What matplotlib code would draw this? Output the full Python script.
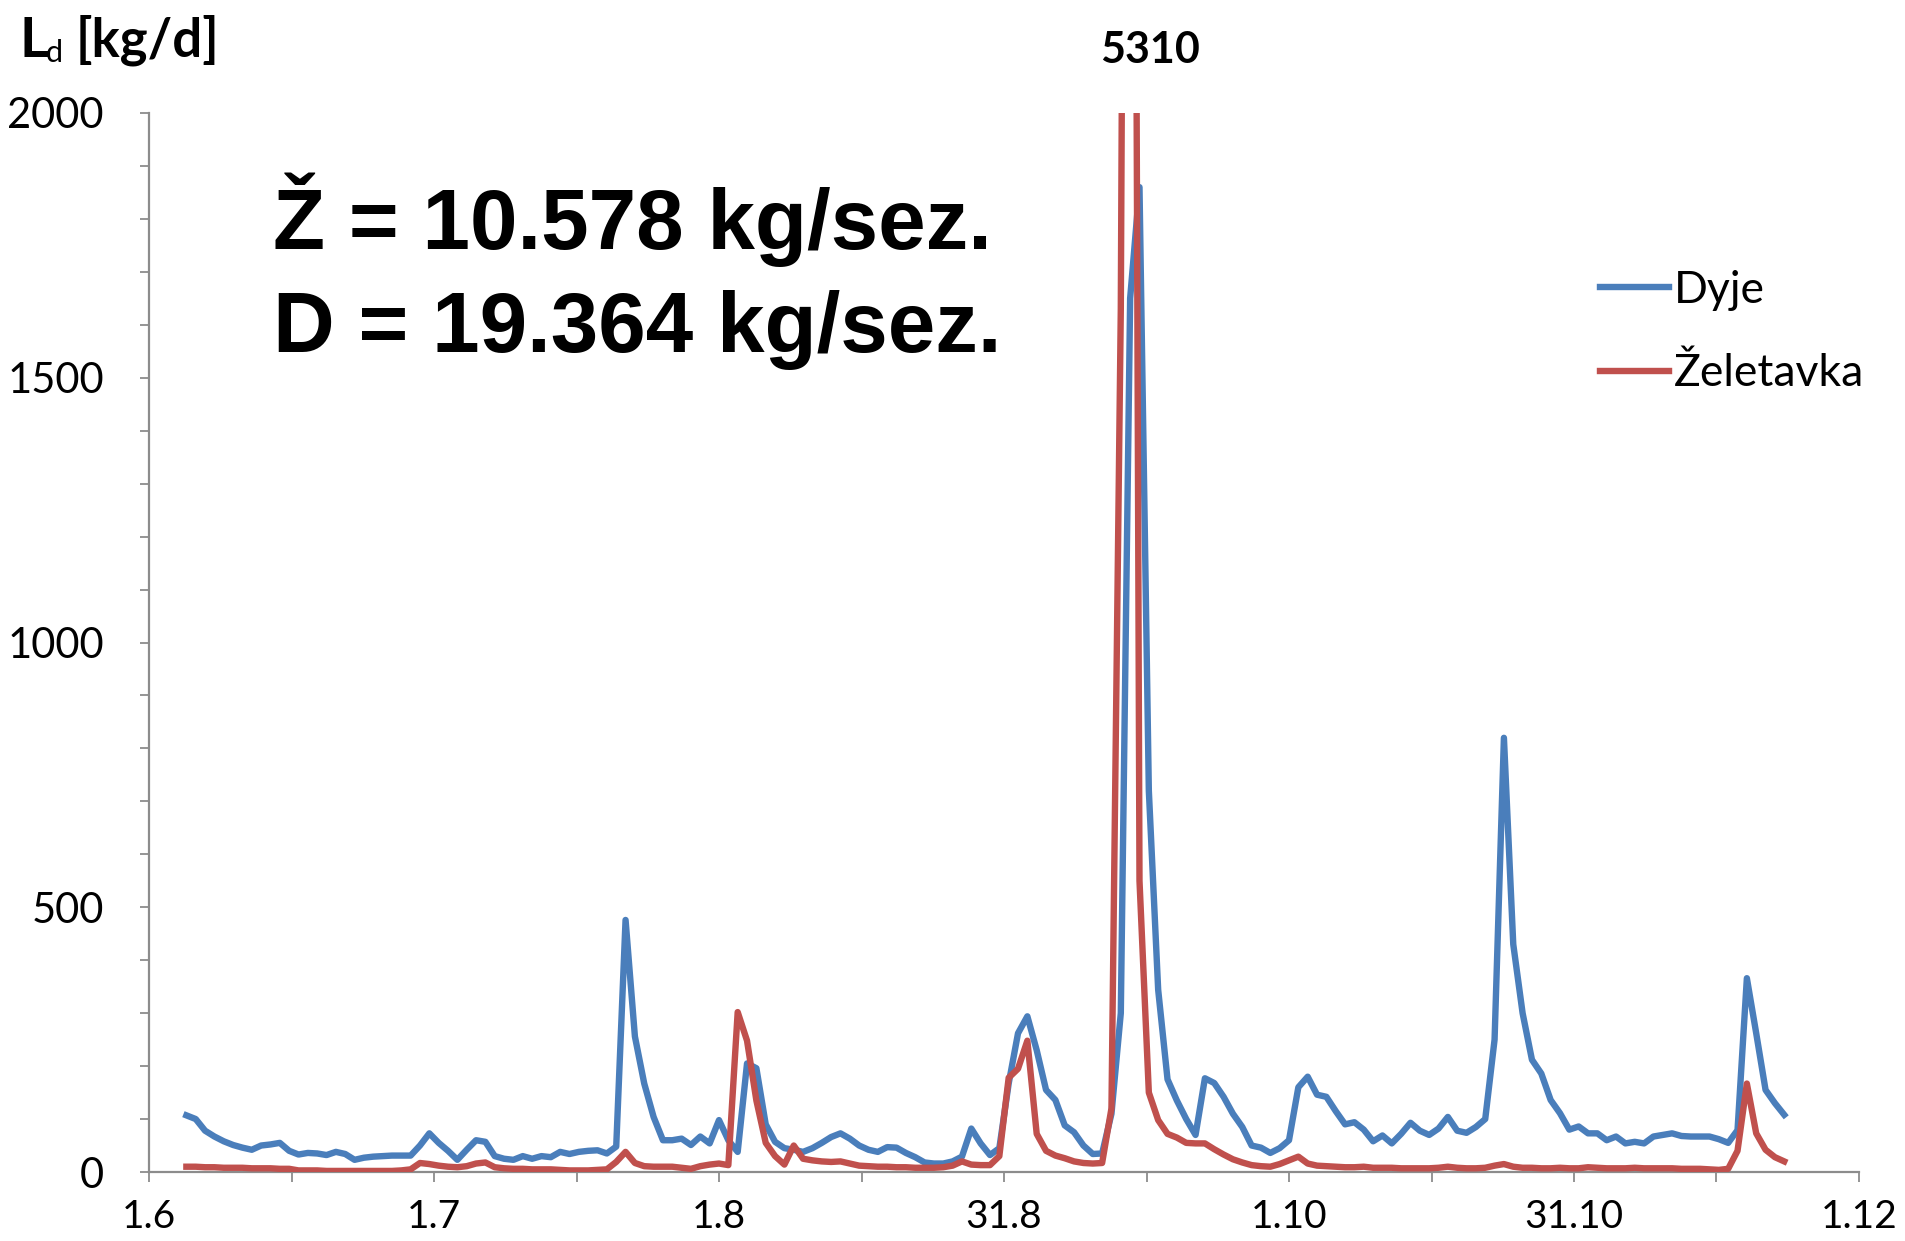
import matplotlib
matplotlib.use("Agg")
import matplotlib.pyplot as plt
import numpy as np
from matplotlib.ticker import FixedLocator, MultipleLocator, NullFormatter

# ---------------- data ----------------
start_day = 4          # first measurement: days after 1.6
dyje = [
    107, 100, 78, 67, 58, 51, 46, 42, 50, 52,
    55, 40, 33, 36, 35, 32, 38, 34, 23, 27,
    29, 30, 31, 31, 31, 50, 73, 55, 40, 23,
    42, 60, 57, 30, 25, 23, 30, 25, 30, 28,
    38, 34, 38, 40, 41, 35, 48, 476, 256, 167,
    104, 60, 60, 63, 51, 67, 54, 98, 60, 38,
    205, 196, 90, 57, 45, 42, 38, 45, 55, 66,
    73, 63, 50, 42, 38, 47, 46, 36, 28, 18,
    16, 16, 20, 29, 82, 54, 32, 45, 167, 262,
    294, 230, 155, 136, 88, 75, 50, 34, 35, 110,
    300, 1650, 1860, 720, 344, 175, 135, 100, 70, 177,
    168, 142, 110, 85, 50, 46, 36, 45, 60, 160,
    180, 146, 142, 115, 90, 94, 80, 58, 69, 54,
    72, 93, 78, 70, 82, 104, 78, 74, 85, 100,
    250, 820, 430, 300, 212, 186, 136, 111, 80, 86,
    73, 73, 60, 67, 54, 57, 54, 67, 70, 73,
    68, 67, 67, 67, 62, 55, 79, 366, 262, 155,
    130, 108,
]
zeletavka = [
    10, 10, 9, 9, 8, 8, 8, 7, 7, 7,
    6, 6, 3, 3, 3, 2, 2, 2, 2, 2,
    2, 2, 2, 3, 5, 17, 15, 12, 10, 9,
    11, 16, 18, 9, 7, 6, 6, 5, 5, 5,
    4, 3, 3, 3, 4, 5, 19, 38, 17, 11,
    10, 10, 10, 8, 6, 11, 14, 16, 13, 302,
    248, 135, 55, 30, 14, 50, 25, 22, 20, 19,
    20, 16, 12, 11, 10, 10, 9, 9, 8, 8,
    8, 9, 12, 20, 14, 13, 13, 30, 178, 195,
    248, 72, 40, 31, 26, 20, 17, 16, 17, 120,
    1630, 5310, 550, 150, 98, 72, 65, 55, 54, 54,
    43, 33, 24, 18, 13, 11, 10, 15, 22, 29,
    16, 12, 11, 10, 9, 9, 10, 8, 8, 8,
    7, 7, 7, 7, 8, 10, 8, 7, 7, 8,
    12, 15, 10, 8, 8, 7, 7, 8, 7, 7,
    9, 8, 7, 7, 7, 8, 7, 7, 7, 7,
    6, 6, 6, 5, 4, 6, 40, 167, 73, 42,
    28, 20,
]
series_names = ["Dyje", "Želetavka"]
x_tick_labels = ["1.6", "1.7", "1.8", "31.8", "1.10", "31.10", "1.12"]
x_tick_days = [0, 30.5, 61, 91.5, 122, 152.5, 183]
y_tick_values = [0, 500, 1000, 1500, 2000]
peak_label = "5310"
summary_lines = ["Ž = 10.578 kg/sez.", "D = 19.364 kg/sez."]

# ---------------- figure ----------------
W, H = 1905, 1241
fig = plt.figure(figsize=(W / 100, H / 100), dpi=100)

def fx(px):
    return px / W

def fy(py):
    return 1 - py / H

ax = fig.add_axes([fx(149), fy(1172), fx(1859) - fx(149), fy(113) - fy(1172)])

days = np.arange(start_day, start_day + len(dyje))
days_z = np.arange(start_day, start_day + len(zeletavka))

blue = "#4A7EBB"
red = "#C0504D"
ax.plot(days, dyje, color=blue, lw=4.6, solid_joinstyle="round",
        label=series_names[0], zorder=2)
ax.plot(days_z, zeletavka, color=red, lw=4.6, solid_joinstyle="round",
        label=series_names[1], zorder=3)

ax.set_xlim(0, 183)
ax.set_ylim(0, 2000)

axis_gray = "#8C8C8C"
for s in ("top", "right"):
    ax.spines[s].set_visible(False)
for s in ("left", "bottom"):
    ax.spines[s].set_color(axis_gray)
    ax.spines[s].set_linewidth(1.6)

tick_font = "Lato"
ax.yaxis.set_major_locator(FixedLocator(y_tick_values))
ax.yaxis.set_minor_locator(MultipleLocator(100))
ax.set_yticklabels([str(v) for v in y_tick_values], fontsize=30, family=tick_font)
ax.xaxis.set_major_locator(FixedLocator(x_tick_days))
ax.xaxis.set_minor_locator(FixedLocator([(a + b) / 2 for a, b in zip(x_tick_days[:-1], x_tick_days[1:])]))
ax.set_xticklabels(x_tick_labels, fontsize=28, family=tick_font)
ax.xaxis.set_minor_formatter(NullFormatter())

ax.tick_params(axis="y", which="both", direction="out", length=6.5, width=1.3,
               color=axis_gray, pad=26)
ax.tick_params(axis="x", which="both", direction="out", length=7.5, width=1.3,
               color=axis_gray, pad=12)

# legend
leg = ax.legend(loc="upper left", bbox_to_anchor=(fx(1600), fy(270)),
                bbox_transform=fig.transFigure, frameon=False,
                prop={"family": tick_font, "size": 32},
                handlelength=1.55, handletextpad=0.12, labelspacing=0.95,
                borderpad=0, borderaxespad=0)

# axis title  L_d [kg/d]
fig.text(fx(20), fy(57), "L", fontsize=40, fontweight="bold", family=tick_font, va="baseline")
fig.text(fx(46), fy(62), "d", fontsize=22, family=tick_font, va="baseline")
fig.text(fx(76), fy(57), "[kg/d]", fontsize=38, fontweight="bold", family=tick_font, va="baseline")

# peak value annotation
fig.text(fx(1150), fy(50), peak_label, fontsize=31, fontweight="bold",
         family=tick_font, ha="center", va="center")

# summary text
fig.text(fx(273), fy(249), summary_lines[0], fontsize=61.5, fontweight="bold",
         family="Liberation Sans", va="baseline")
fig.text(fx(273), fy(352), summary_lines[1], fontsize=61.5, fontweight="bold",
         family="Liberation Sans", va="baseline")

fig.savefig("out.png", dpi=100, facecolor="white")
